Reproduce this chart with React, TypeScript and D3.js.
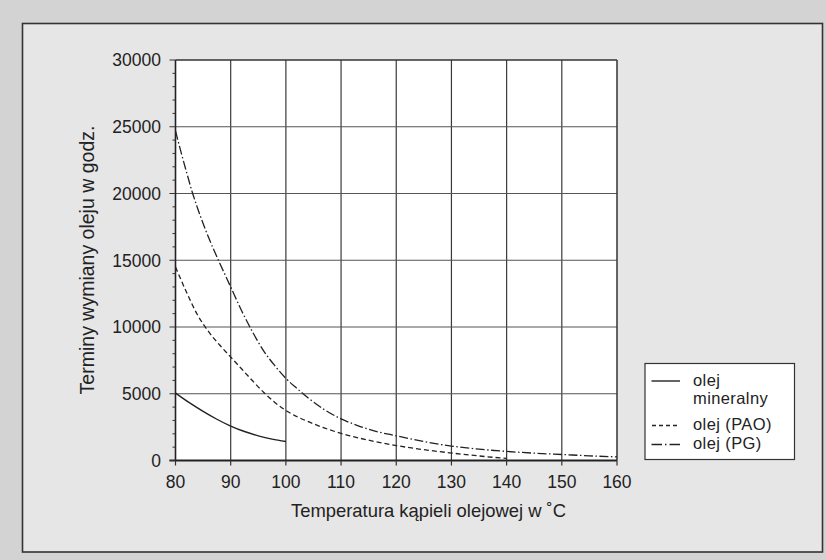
import React from "react";
import * as d3 from "d3";

const xTicks = [80, 90, 100, 110, 120, 130, 140, 150, 160];
const yTicks = [0, 5000, 10000, 15000, 20000, 25000, 30000];

const mineralT = [80, 82.5, 85, 87.5, 90, 92.5, 95, 97.5, 100];
const mineralV = [5050, 4330, 3680, 3090, 2580, 2170, 1850, 1600, 1420];

const paoT = [80, 82, 84, 86, 88, 90, 92, 94, 96, 98, 100, 105, 110, 115, 120, 125, 130, 135, 140];
const paoV = [14500, 12600, 10900, 9650, 8650, 7750, 6850, 5950, 5100, 4350, 3750, 2750, 2030, 1520, 1120, 810, 560, 340, 150];

const pgT = [80, 81, 82, 83, 84, 86, 88, 90, 92, 94, 96, 98, 100, 102, 104, 107, 110, 113, 116, 120, 125, 130, 135, 140, 145, 150, 155, 160];
const pgV = [24700, 23100, 21600, 20150, 18900, 16700, 14800, 13000, 11200, 9600, 8200, 7100, 6150, 5400, 4700, 3800, 3120, 2620, 2220, 1850, 1420, 1080, 850, 680, 550, 450, 350, 270];

const legendLabels = [["olej", "mineralny"], ["olej (PAO)"], ["olej (PG)"]];

const FONT = "'Liberation Sans', Arial, Helvetica, sans-serif";

export default function App() {
  const x = d3.scaleLinear().domain([80, 160]).range([175.5, 617]);
  const y = d3.scaleLinear().domain([0, 30000]).range([460.5, 60]);
  const line = d3
    .line<[number, number]>()
    .x((d) => x(d[0]))
    .y((d) => y(d[1]))
    .curve(d3.curveMonotoneX);

  const zip = (a: number[], b: number[]) => a.map((t, i) => [t, b[i]] as [number, number]);

  const minorY = d3.range(0, 30001, 1000);
  const [x0, x1] = x.range();
  const [y0, y1] = y.range();

  const dashPG = "9,2.5,1.5,2.5";
  const dashPAO = "5,3";

  return (
    <svg
      width={826}
      height={560}
      style={{ position: "absolute", left: 0, top: 0, fontFamily: FONT }}
    >
      <rect x={0} y={0} width={826} height={560} fill="#d3d3d3" />
      <rect x={22.5} y={23.5} width={800} height={528.5} fill="#e6e6e6" stroke="#333" strokeWidth={1.6} />

      {/* plot background */}
      <rect x={x0} y={y1} width={x1 - x0} height={y0 - y1} fill="#ffffff" />

      {/* grid */}
      {xTicks.slice(1, -1).map((t) => (
        <line key={"gx" + t} x1={x(t)} x2={x(t)} y1={y1} y2={y0} stroke="#3a3a3a" strokeWidth={1.2} />
      ))}
      {yTicks.slice(1, -1).map((t) => (
        <line key={"gy" + t} x1={x0} x2={x1} y1={y(t)} y2={y(t)} stroke="#555" strokeWidth={1.2} />
      ))}

      {/* frame */}
      <line x1={x0} x2={x1} y1={y1} y2={y1} stroke="#333" strokeWidth={1.5} />
      <line x1={x1} x2={x1} y1={y1} y2={y0} stroke="#333" strokeWidth={1.5} />
      <line x1={x0} x2={x0} y1={y1} y2={y0} stroke="#222" strokeWidth={1.6} />
      <line x1={x0 - 6} x2={x1} y1={y0} y2={y0} stroke="#222" strokeWidth={2} />

      {/* y ticks */}
      {minorY.map((t) => (
        <line
          key={"my" + t}
          x1={x0 - (t % 5000 === 0 ? 6 : 3)}
          x2={x0}
          y1={y(t)}
          y2={y(t)}
          stroke="#333"
          strokeWidth={1}
        />
      ))}
      {yTicks.map((t) => (
        <text key={"ty" + t} x={161} y={y(t)} dy="0.36em" textAnchor="end" fontSize={17.5} fill="#222">
          {t}
        </text>
      ))}

      {/* x ticks */}
      {xTicks.map((t) => (
        <g key={"tx" + t}>
          <line x1={x(t)} x2={x(t)} y1={y0} y2={y0 + 5} stroke="#333" strokeWidth={1.2} />
          <text x={x(t)} y={488} textAnchor="middle" fontSize={17.5} fill="#222">
            {t}
          </text>
        </g>
      ))}

      {/* curves */}
      <path d={line(zip(mineralT, mineralV)) || ""} fill="none" stroke="#222" strokeWidth={1.4} />
      <path d={line(zip(paoT, paoV)) || ""} fill="none" stroke="#222" strokeWidth={1.3} strokeDasharray={dashPAO} />
      <path d={line(zip(pgT, pgV)) || ""} fill="none" stroke="#222" strokeWidth={1.3} strokeDasharray={dashPG} />

      {/* axis titles */}
      <text x={428.5} y={517} textAnchor="middle" fontSize={18.4} fill="#222">
        Temperatura kąpieli olejowej w ˚C
      </text>
      <text
        transform={`translate(94,260) rotate(-90)`}
        textAnchor="middle"
        fontSize={19.5}
        fill="#222"
      >
        Terminy wymiany oleju w godz.
      </text>

      {/* legend */}
      <rect x={645} y={363.5} width={149.5} height={96} fill="#ffffff" stroke="#333" strokeWidth={1.2} />
      <line x1={651.5} x2={680} y1={381} y2={381} stroke="#222" strokeWidth={1.4} />
      <line x1={652} x2={678} y1={425.5} y2={425.5} stroke="#222" strokeWidth={1.3} strokeDasharray="4,3" />
      <line x1={651.5} x2={680} y1={444.5} y2={444.5} stroke="#222" strokeWidth={1.3} strokeDasharray="10.5,3,1.5,3" />
      <text x={693} y={385.5} fontSize={16.5} fill="#222" letterSpacing={0.4}>{legendLabels[0][0]}</text>
      <text x={693} y={404} fontSize={16.5} fill="#222" letterSpacing={0.4}>{legendLabels[0][1]}</text>
      <text x={693} y={429.5} fontSize={16.5} fill="#222" letterSpacing={0.4}>{legendLabels[1][0]}</text>
      <text x={693} y={449} fontSize={16.5} fill="#222" letterSpacing={0.4}>{legendLabels[2][0]}</text>
    </svg>
  );
}
